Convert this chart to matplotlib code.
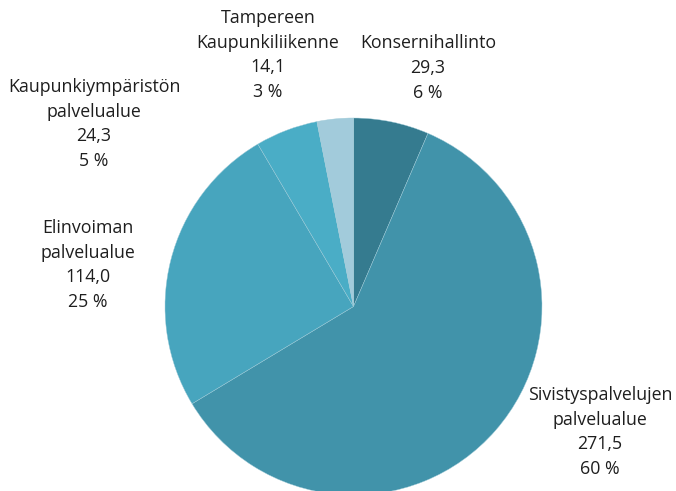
import matplotlib.pyplot as plt

# data (order clockwise from top)
names = ["Konsernihallinto", "Sivistyspalvelujen\npalvelualue", "Elinvoiman\npalvelualue",
         "Kaupunkiympäristön\npalvelualue", "Tampereen\nKaupunkiliikenne"]
values = [29.3, 271.5, 114.0, 24.3, 14.1]
percents = [6, 60, 25, 5, 3]
colors = ["#357b8f", "#4193aa", "#47a5be", "#4aadc6", "#a2cbdb"]

# label anchor points (pixel coords, y from top)
label_pos = [(428, 68), (600, 432), (88, 265), (94, 124), (268, 55)]

W, H = 676, 491
fig = plt.figure(figsize=(W / 100, H / 100), dpi=100)
ax = fig.add_axes([0, 0, 1, 1])

ax.pie(values, colors=colors, startangle=90, counterclock=False,
       center=(353.5, H - 306.5), radius=188.5, frame=True,
       wedgeprops=dict(edgecolor="#9fcbd8", linewidth=0.3))
ax.set_xlim(0, W)
ax.set_ylim(0, H)
ax.set_aspect("equal")
ax.axis("off")

for name, v, p, (x, y) in zip(names, values, percents, label_pos):
    txt = f"{name}\n{v:.1f}".replace(".", ",") + f"\n{p} %"
    ax.text(x, H - y, txt, ha="center", va="center", fontsize=12.8,
            family="Open Sans", color="#1e1e1e", linespacing=1.47)

fig.savefig("out.png", dpi=100)
